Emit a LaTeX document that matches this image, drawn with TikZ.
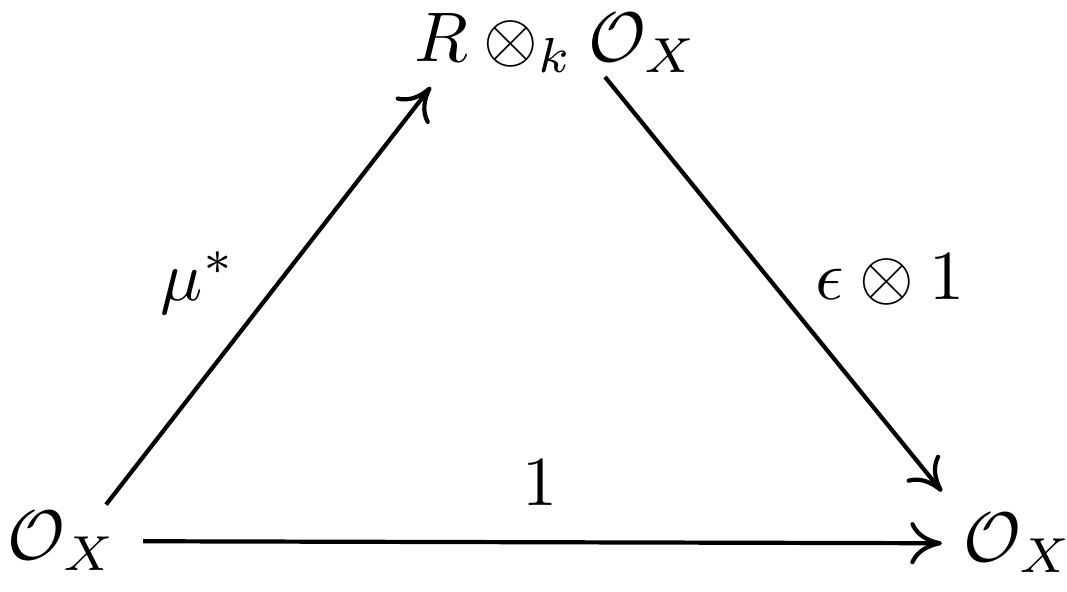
\documentclass[tikz,border=0pt]{standalone}
\usetikzlibrary{arrows.meta,calc}
\begin{document}
\begin{tikzpicture}[x=0.005cm,y=-0.005cm,
  obj/.style={inner sep=0pt, anchor=base},
  arr/.style={-{To[length=4.5pt,width=6pt]}, line width=0.6pt},
  lab/.style={inner sep=0pt}]
\useasboundingbox (0,0) rectangle (1067,592);
\node[obj] (T) at (556,62) {$R\otimes_k\mathcal{O}_{X}$};
\node[obj] (L) at (62,560) {$\mathcal{O}_{X}$};
\node[obj] (Rt) at (1018,562) {$\mathcal{O}_{X}$};
\draw[arr] ($(L.north east)+(-12,-6)$) -- ($(T.south west)+(18,13)$);
\draw[arr] ($(T.south)+(49,3)$) -- ($(Rt.north west)+(-20,-21)$);
\draw[arr] ($(L.east)+(25,0)$) -- ($(Rt.west)+(-20,0)$);
\node[lab] (lmu) at (198,283) {$\mu^*$};
\node[lab] (leps) at (890,280) {$\epsilon\otimes 1$};
\node[lab] (lone) at (540,483) {$1$};
\end{tikzpicture}
\end{document}
